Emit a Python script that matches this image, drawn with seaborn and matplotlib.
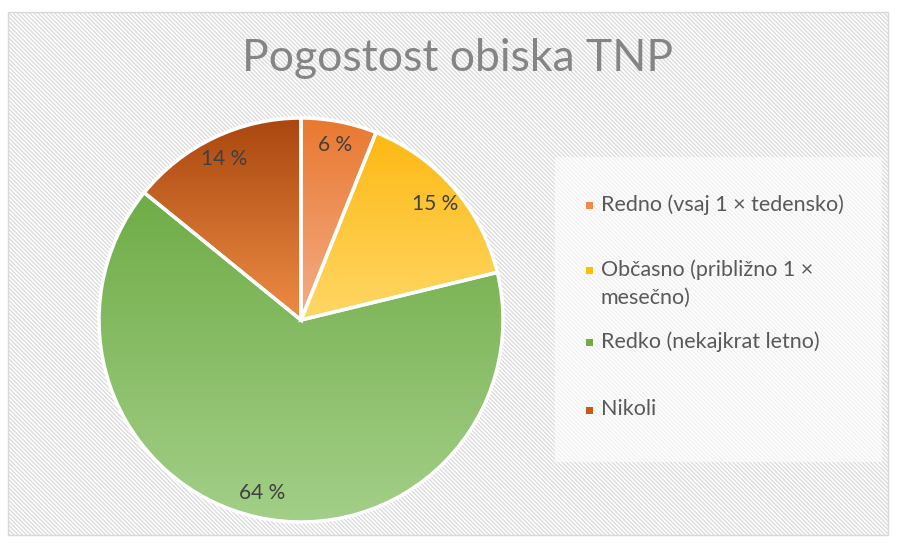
import numpy as np
import matplotlib
matplotlib.use("Agg")
import matplotlib.pyplot as plt
import seaborn as sns
from matplotlib.patches import Rectangle
from matplotlib.colors import to_rgb

# ---- data ----
categories = ["Redno (vsaj 1 × tedensko)", "Občasno (približno 1 ×\nmesečno)",
              "Redko (nekajkrat letno)", "Nikoli"]
values = [6, 15, 64, 14]
pct_labels = ["6 %", "15 %", "64 %", "14 %"]
title = "Pogostost obiska TNP"

base_colors = ["#F08A4B", "#FFC000", "#70AD47", "#C55A11"]
top_colors = ["#E9782F", "#FDB913", "#6FAC46", "#A9470F"]
bottom_colors = ["#F4AE88", "#FFD766", "#A3CF88", "#EE8C45"]

sns.set_theme(style="white")
plt.rcParams['font.family'] = ['Lato', 'DejaVu Sans']
plt.rcParams['hatch.linewidth'] = 1.0

W, H = 899, 545
fig = plt.figure(figsize=(W / 100, H / 100), dpi=100)
fig.patch.set_facecolor("white")


def fx(x):
    return x / W


def fy(y):
    return 1 - y / H


# background with fine diagonal stripes
bg = Rectangle((fx(8), fy(535)), fx(888) - fx(8), fy(12) - fy(535), transform=fig.transFigure,
               facecolor="white", edgecolor="#dcdcdc", hatch="\\\\\\\\\\\\\\\\", linewidth=0, zorder=-3)
fig.patches.append(bg)
border = Rectangle((fx(8), fy(535)), fx(888) - fx(8), fy(12) - fy(535), transform=fig.transFigure,
                   facecolor="none", edgecolor="#d9d9d9", linewidth=1, zorder=-2)
fig.patches.append(border)

# legend area
lg = Rectangle((fx(555), fy(462)), fx(882) - fx(555), fy(157) - fy(462), transform=fig.transFigure,
               facecolor="white", alpha=0.6, edgecolor="none", zorder=-1)
fig.patches.append(lg)

fig.text(fx(458), fy(71), title, ha="center", va="baseline", fontsize=32,
         color="#858585", fontweight="normal", zorder=3)

# pie axes
cx, cy, R = 301, 320, 202
pad = 1.05
ax = fig.add_axes([fx(cx - R * pad), fy(cy + R * pad), 2 * R * pad / W, 2 * R * pad / H])
ax.set_zorder(5)
ax.set_axis_off()

it = iter(pct_labels)
wedges, texts, autotexts = ax.pie(
    values, startangle=90, counterclock=False, radius=1,
    autopct=lambda p: next(it), pctdistance=0.88,
    wedgeprops=dict(edgecolor="white", linewidth=2.5),
    textprops=dict(color="#404040", fontsize=15))

for w, tc, bc in zip(wedges, top_colors, bottom_colors):
    ext = w.get_path().get_extents()
    grad = np.linspace(to_rgb(tc), to_rgb(bc), 256)[:, None, :]
    im = ax.imshow(grad, extent=(ext.x0, ext.x1, ext.y0, ext.y1), origin="upper",
                   aspect="auto", zorder=1, interpolation="bilinear")
    im.set_clip_path(w)
    w.set_facecolor("none")
    w.set_zorder(2)
for t in autotexts:
    t.set_zorder(3)

ax.set_xlim(-pad, pad)
ax.set_ylim(-pad, pad)
ax.set_aspect("equal")

# legend (manual, placed like the original)
leg_y = [205, 270, 342, 410]
for lab, col, y in zip(categories, base_colors, leg_y):
    fig.patches.append(Rectangle((fx(586), fy(y + 4)), 7 / W, 7 / H, transform=fig.transFigure,
                                 facecolor=col, edgecolor="none", zorder=2))
    fig.text(fx(601), fy(y - 11), lab, ha="left", va="top", fontsize=15.5,
             color="#595959", linespacing=1.5, zorder=3)

fig.savefig("out.png", dpi=100)
